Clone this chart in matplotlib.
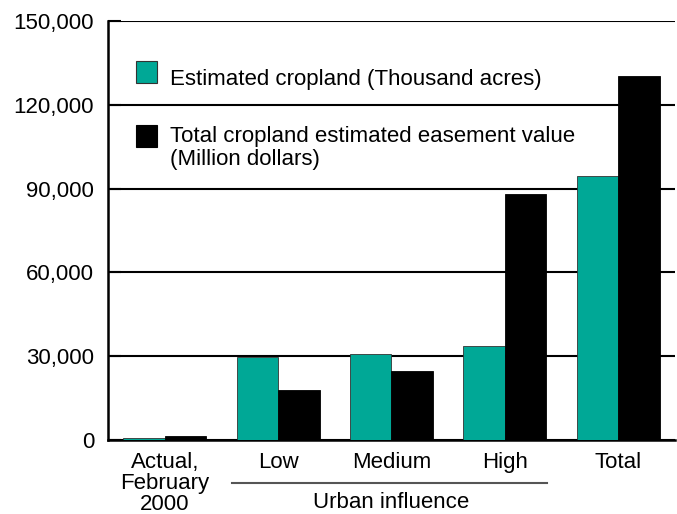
import matplotlib.pyplot as plt
from matplotlib.patches import Rectangle
from matplotlib.ticker import FuncFormatter
import matplotlib.transforms as mtransforms

plt.rcParams['font.family'] = ['Liberation Sans', 'DejaVu Sans']

categories = ['Actual,\nFebruary\n2000', 'Low', 'Medium', 'High', 'Total']
cropland = [800, 29800, 30800, 33700, 94500]
easement_value = [1300, 17900, 24700, 88000, 130300]
legend_labels = ['Estimated cropland (Thousand acres)',
                 'Total cropland estimated easement value\n(Million dollars)']
yticks = [0, 30000, 60000, 90000, 120000, 150000]

teal = '#00a896'
width = 0.366

fig = plt.figure(figsize=(6.77, 5.14), dpi=100)
ax = fig.add_axes([0.1595, 0.144, 0.8375, 0.815])

x = list(range(len(categories)))
ax.bar([i - width / 2 for i in x], cropland, width, color=teal,
       edgecolor='#333333', linewidth=0.6, zorder=3)
ax.bar([i + width / 2 for i in x], easement_value, width, color='black',
       edgecolor='black', linewidth=0.6, zorder=3)

ax.set_xlim(-0.5, 4.5)
ax.set_ylim(0, 150000)
ax.set_yticks(yticks)
ax.yaxis.set_major_formatter(FuncFormatter(lambda v, p: f'{int(v):,}'))
ax.set_xticks(x)
ax.set_xticklabels(categories, fontsize=16, linespacing=1.0)
ax.tick_params(axis='x', length=0, pad=9)
ax.tick_params(axis='y', direction='in', length=9, width=1.5, labelsize=16, pad=10)

# gridlines across the plot
ax.grid(axis='y', color='black', linewidth=1.5)
ax.set_axisbelow(True)
for s in ['top', 'right']:
    ax.spines[s].set_visible(False)
ax.spines['left'].set_linewidth(1.8)
ax.spines['bottom'].set_linewidth(1.8)

# "Urban influence" bracket under Low/Medium/High
trans = mtransforms.blended_transform_factory(ax.transData, ax.transAxes)
ax.plot([0.59, 3.37], [-0.103, -0.103], color='#555555', linewidth=1.5,
        transform=trans, clip_on=False)
ax.text(2, -0.150, 'Urban influence', transform=trans, ha='center', va='center',
        fontsize=16)

# legend drawn by hand, no frame
ax.add_patch(Rectangle((0.049, 0.852), 0.037, 0.0525, transform=ax.transAxes,
                       facecolor=teal, edgecolor='#333333', linewidth=0.8, zorder=5))
ax.add_patch(Rectangle((0.049, 0.699), 0.037, 0.0525, transform=ax.transAxes,
                       facecolor='black', edgecolor='black', linewidth=0.8, zorder=5))
ax.text(0.109, 0.847, legend_labels[0], transform=ax.transAxes, va='baseline',
        fontsize=16, zorder=5)
ax.text(0.109, 0.656, legend_labels[1], transform=ax.transAxes, va='baseline',
        fontsize=16, linespacing=1.15, zorder=5)

fig.savefig('out.png', dpi=100)
